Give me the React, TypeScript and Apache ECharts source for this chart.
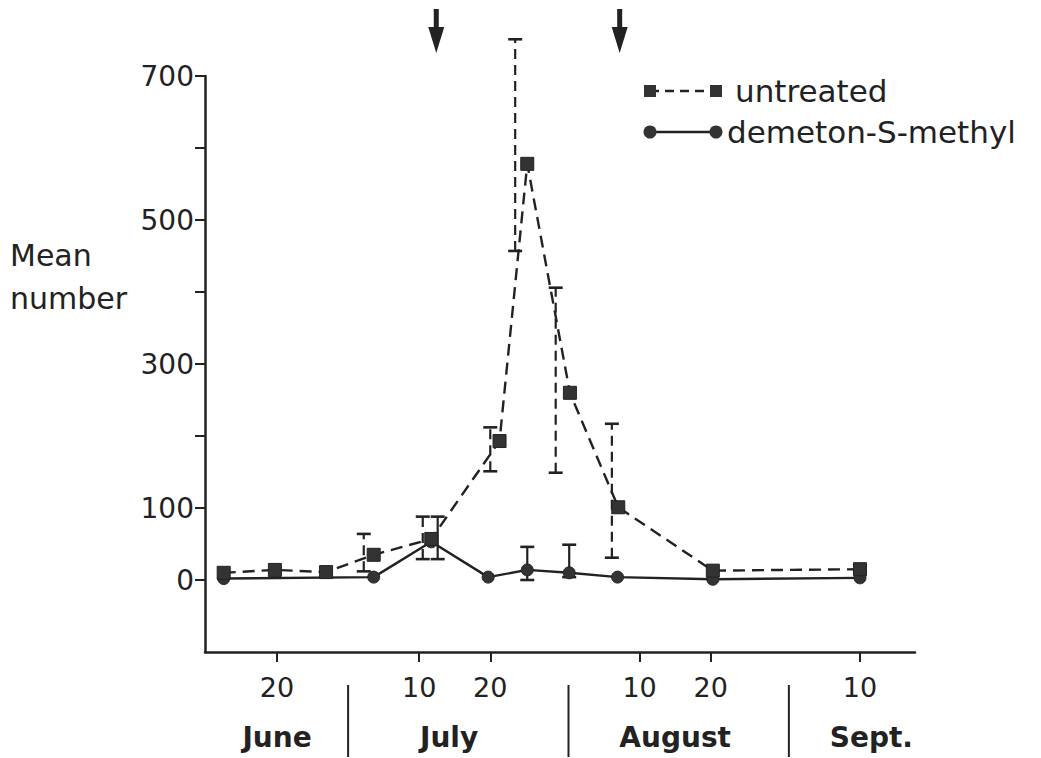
import React, { useEffect, useRef } from "react";
import * as echarts from "echarts";

// ---- data (day number counted from 1 June) ----
const untreated: number[][] = [
  [12.5, 10], [19.7, 14], [26.9, 11], [33.6, 35], [41.7, 57], [51.3, 193],
  [55.2, 578], [61.2, 260], [68.0, 101], [81.3, 13], [102, 15],
];
const demeton: number[][] = [
  [12.5, 2], [33.6, 4], [41.7, 53], [49.7, 4], [55.2, 14], [61.1, 10],
  [67.9, 4], [81.3, 1], [102, 3],
];
// [day, low, high]
const untreatedErr: number[][] = [
  [32.2, 12, 64], [40.5, 29, 88], [50.0, 151, 212], [53.5, 457, 751],
  [59.2, 149, 406], [67.1, 31, 217],
];
const demetonErr: number[][] = [[42.6, 29, 88], [55.2, 0, 46], [61.1, 4, 49]];
const xTickDays = [20, 40, 50, 71, 81, 102];
const xTickLabels = ["20", "10", "20", "10", "20", "10"];
const yTicks = [0, 100, 200, 300, 400, 500, 600, 700];
const yLabels = [0, 100, 300, 500, 700];
const months = ["June", "July", "August", "Sept."];
const monthCentres = [20, 44.2, 76, 103.6];
const monthEnds = [30, 61, 92];
const sprayDays = [42.4, 68.2];
const seriesNames = ["untreated", "demeton-S-methyl"];
const yTitle = ["Mean", "number"];

const INK = "#222";
const FONT = "DejaVu Sans";

function errRender(dashed: boolean) {
  return (params: any, api: any) => {
    const lo = api.coord([api.value(0), api.value(1)]);
    const hi = api.coord([api.value(0), api.value(2)]);
    const cap = 7;
    const base = { stroke: INK, lineWidth: 2.2 };
    return {
      type: "group",
      children: [
        {
          type: "line",
          shape: { x1: lo[0], y1: lo[1], x2: hi[0], y2: hi[1] },
          style: { ...base, lineDash: dashed ? [10, 6] : null },
        },
        {
          type: "line",
          shape: { x1: hi[0] - cap, y1: hi[1], x2: hi[0] + cap, y2: hi[1] },
          style: { ...base, lineWidth: 2.6 },
        },
        {
          type: "line",
          shape: { x1: lo[0] - cap, y1: lo[1], x2: lo[0] + cap, y2: lo[1] },
          style: { ...base, lineWidth: 2.6 },
        },
      ],
    };
  };
}

export default function App() {
  const ref = useRef<HTMLDivElement>(null);
  useEffect(() => {
    if (!ref.current) return;
    const chart = echarts.init(ref.current, null, { renderer: "svg" });
    chart.setOption({
      animation: false,
      backgroundColor: "#fff",
      grid: { left: 205, top: 76, width: 710, height: 576 },
      xAxis: {
        type: "value",
        min: 9.87,
        max: 109.74,
        splitLine: { show: false },
        axisLine: { onZero: false, lineStyle: { color: INK, width: 2.5 } },
        axisTick: {
          customValues: xTickDays,
          length: 10,
          lineStyle: { color: INK, width: 2 },
        },
        axisLabel: {
          customValues: xTickDays,
          formatter: (v: number) => {
            const i = xTickDays.indexOf(v);
            return i >= 0 ? xTickLabels[i] : "";
          },
          color: INK,
          fontFamily: FONT,
          fontSize: 27,
          margin: 22,
        },
      },
      yAxis: {
        type: "value",
        min: -100,
        max: 700,
        splitLine: { show: false },
        axisLine: { show: true, onZero: false, lineStyle: { color: INK, width: 2.5 } },
        axisTick: {
          show: true,
          customValues: yTicks,
          length: 10,
          lineStyle: { color: INK, width: 2 },
        },
        axisLabel: {
          customValues: yLabels,
          color: INK,
          fontFamily: FONT,
          fontSize: 28,
          margin: 11,
        },
      },
      series: [
        {
          name: seriesNames[0],
          type: "custom",
          renderItem: errRender(true),
          data: untreatedErr,
          encode: { x: 0, y: [1, 2] },
          z: 1,
        },
        {
          name: seriesNames[1],
          type: "custom",
          renderItem: errRender(false),
          data: demetonErr,
          encode: { x: 0, y: [1, 2] },
          z: 1,
        },
        {
          name: seriesNames[1],
          type: "line",
          data: demeton,
          symbol: "circle",
          symbolSize: 12,
          lineStyle: { color: INK, width: 2.4 },
          itemStyle: { color: "#333", borderColor: INK, borderWidth: 1 },
          z: 3,
        },
        {
          name: seriesNames[0],
          type: "line",
          data: untreated,
          symbol: "rect",
          symbolSize: 13,
          lineStyle: { color: INK, width: 2.4, type: [12, 7] },
          itemStyle: { color: "#333", borderColor: INK, borderWidth: 1 },
          z: 4,
        },
      ],
    });

    const px = (d: number) => chart.convertToPixel({ xAxisIndex: 0 }, d) as number;
    const graphic: any[] = [];
    // month separators
    monthEnds.forEach((d) => {
      const x = px(d);
      graphic.push({
        type: "line",
        shape: { x1: x, y1: 685, x2: x, y2: 757 },
        style: { stroke: INK, lineWidth: 2 },
      });
    });
    // month names
    months.forEach((m, i) => {
      graphic.push({
        type: "text",
        x: px(monthCentres[i]),
        y: 737,
        style: {
          text: m,
          fill: INK,
          font: `bold 28px ${FONT}`,
          align: "center",
          verticalAlign: "middle",
        },
      });
    });
    // spray arrows
    sprayDays.forEach((d) => {
      const x = px(d);
      graphic.push({
        type: "rect",
        shape: { x: x - 2.5, y: 9, width: 5, height: 22 },
        style: { fill: INK },
      });
      graphic.push({
        type: "polygon",
        shape: { points: [[x - 8, 27], [x + 8, 27], [x, 53]] },
        style: { fill: INK },
      });
    });
    // y title
    yTitle.forEach((t, i) => {
      graphic.push({
        type: "text",
        x: 10,
        y: 255 + i * 43,
        style: {
          text: t,
          fill: INK,
          font: `30px ${FONT}`,
          align: "left",
          verticalAlign: "middle",
        },
      });
    });
    // legend
    const lg = [
      { y: 91, dashed: true, sym: "rect" },
      { y: 132, dashed: false, sym: "circle" },
    ];
    lg.forEach((l, i) => {
      graphic.push({
        type: "line",
        shape: { x1: 650, y1: l.y, x2: 716, y2: l.y },
        style: { stroke: INK, lineWidth: 2.4, lineDash: l.dashed ? [9, 6] : null },
      });
      [650, 716].forEach((cx) => {
        if (l.sym === "rect") {
          graphic.push({
            type: "rect",
            shape: { x: cx - 6, y: l.y - 6, width: 12, height: 12 },
            style: { fill: "#333" },
          });
        } else {
          graphic.push({
            type: "circle",
            shape: { cx, cy: l.y, r: 6.5 },
            style: { fill: "#333" },
          });
        }
      });
      graphic.push({
        type: "text",
        x: i === 0 ? 735 : 727,
        y: l.y,
        style: {
          text: seriesNames[i],
          fill: INK,
          font: `31px ${FONT}`,
          align: "left",
          verticalAlign: "middle",
        },
      });
    });
    chart.setOption({ graphic });

    return () => chart.dispose();
  }, []);
  return (
    <div
      ref={ref}
      style={{ position: "absolute", left: 0, top: 0, width: 1041, height: 758 }}
    />
  );
}
